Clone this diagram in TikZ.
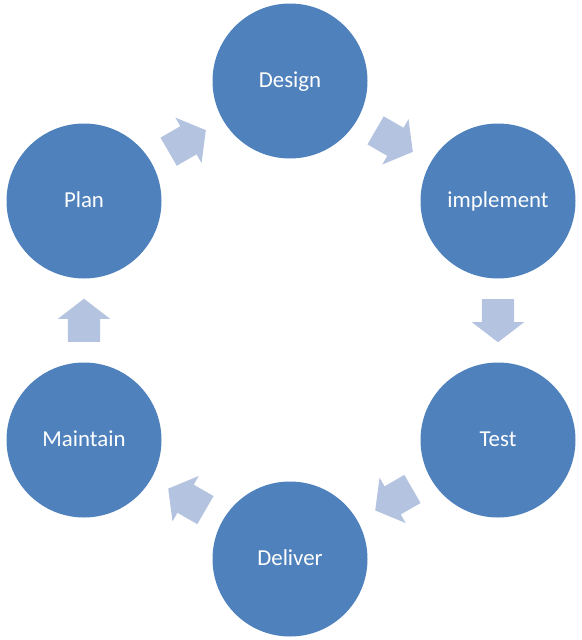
\documentclass[tikz,border=0pt]{standalone}
\usepackage{fontspec}
\setmainfont{Carlito}
\usepackage{xcolor}
\usetikzlibrary{arrows.meta,positioning,calc,shapes.arrows}

\definecolor{phasefill}{RGB}{79,129,189}
\definecolor{flowfill}{RGB}{180,196,224}

\begin{document}
\begin{tikzpicture}[
  x=0.03cm, y=-0.03cm,
  phase/.style={circle, fill=phasefill, draw=none, minimum size=155*0.03cm, inner sep=0pt,
    text=white, font=\fontsize{19.5}{22}\selectfont, text height=1.05em, text depth=0pt},
  flow/.style={single arrow, fill=flowfill, draw=none, inner xsep=0pt, inner ysep=16*0.03cm,
    minimum height=43*0.03cm, minimum width=52*0.03cm,
    single arrow head extend=10*0.03cm, single arrow head indent=0pt,
    single arrow tip angle=105, anchor=tail}
]
  \useasboundingbox (0,0) rectangle (581,640);
  % six phases on a regular hexagon round (291,320)
  \node[phase] (plan)      at (84,201)  {Plan};
  \node[phase] (design)    at (290,81)  {Design};
  \node[phase] (implement) at (498,201) {implement};
  \node[phase] (test)      at (498,440) {Test};
  \node[phase] (deliver)   at (290,559) {Deliver};
  \node[phase] (maintain)  at (84,440)  {Maintain};
  % block arrows halfway between neighbours, pointing along the cycle
  \foreach \a/\b/\ang in {plan/design/30, design/implement/-30, implement/test/-90,
                          test/deliver/-150, deliver/maintain/150, maintain/plan/90} {
    \coordinate (\a-mid) at ($(\a)!0.5!(\b)$);
    \coordinate (\a-tail) at ($(\a-mid)!-21.5*0.03cm!(\b)$);
    \node[flow, rotate=\ang] (\a-\b) at (\a-tail) {};
  }
\end{tikzpicture}
\end{document}
